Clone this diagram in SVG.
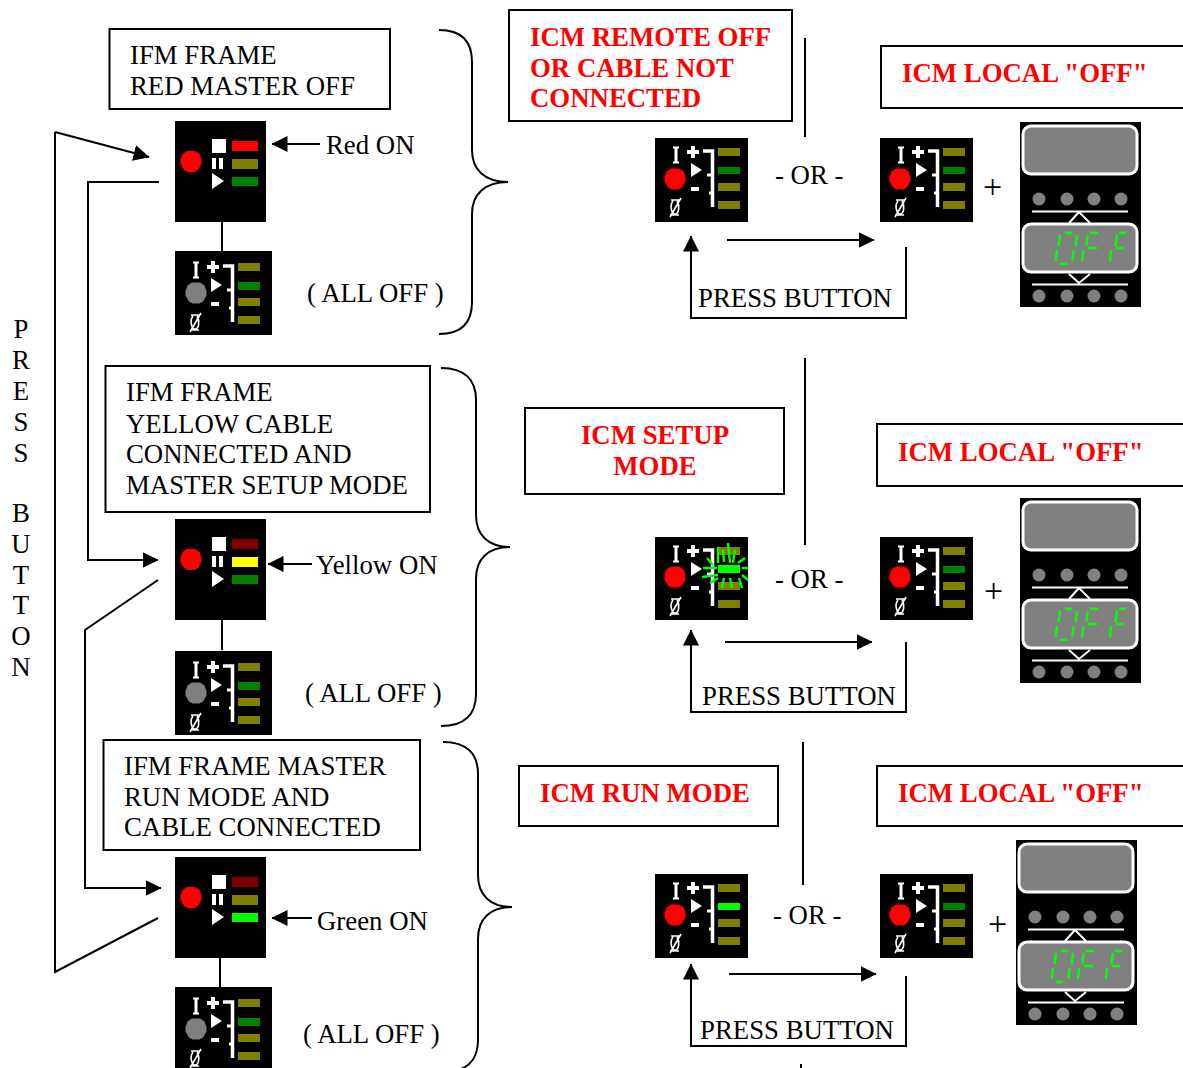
<svg xmlns="http://www.w3.org/2000/svg" width="1183" height="1068" viewBox="0 0 1183 1068">
<style>
text{font-family:"Liberation Serif","Times New Roman",serif;font-size:26.8px;fill:#000}
.r{fill:#f00;font-weight:bold}
.m{text-anchor:middle}
.p{font-size:34px}
.box{fill:#fff;stroke:#000;stroke-width:2}
.c{fill:none;stroke:#000;stroke-width:2}
.w{fill:#fff}
.wl{fill:none;stroke:#fff}
.seg{fill:none;stroke:#0f0;stroke-width:2.400}
.g{fill:#808080}
</style>
<defs>
<marker id="a" markerUnits="userSpaceOnUse" markerWidth="16" markerHeight="16" refX="15.500" refY="8" orient="auto"><path d="M0,0L16,8L0,16Z" fill="#000"/></marker>
<polygon id="oct" points="-4,-10.500 4,-10.500 8.500,-7.500 10.500,-2 10.500,2.500 7,8.500 3.500,10.500 -3.500,10.500 -7,8.500 -10.500,2.500 -10.500,-2 -8.500,-7.500"/>
<g id="panelA">
<rect width="91" height="101" fill="#000"/>
<use href="#oct" x="16" y="40.500" fill="#f00"/>
<rect class="w" x="37" y="18" width="14" height="14"/>
<rect class="w" x="37" y="37" width="4" height="11"/>
<rect class="w" x="44" y="37" width="4" height="11"/>
<path class="w" d="M37,52L49,60L37,68Z"/>
</g>
<g id="panelB">
<path class="wl" stroke-width="3" d="M21,10V24"/><path class="wl" stroke-width="2" d="M18,9.500H24M18,24.500H24"/>
<path class="wl" stroke-width="4" d="M32,14H44M38,8V20"/>
<path class="w" d="M36,25L47,32L36,39Z"/>
<rect class="w" x="36" y="49" width="8" height="4"/>
<path class="wl" stroke-width="3.500" d="M48,13H57.500V69"/>
<path class="wl" stroke-width="3" d="M52,37H57M54,55H57"/>
<path class="wl" stroke-width="1.600" d="M16,62H25M15,77H24M18,63C14,68 17,76 20,76C24,76 25,68 22,63M15,79L26,60"/>
<g fill="#808000"><rect x="63" y="10" width="22" height="8"/><rect x="63" y="45" width="22" height="8"/><rect x="63" y="63" width="22" height="8"/></g>
</g>
<g id="disp">
<rect width="121" height="185" fill="#000"/>
<rect x="3" y="4" width="114" height="48" rx="8" fill="#808080" stroke="#fff" stroke-width="3"/>
<rect x="3" y="102" width="114" height="48" rx="8" fill="#808080" stroke="#fff" stroke-width="3"/>
<g class="g"><circle cx="19" cy="77" r="6.500"/><circle cx="47" cy="77" r="6.500"/><circle cx="74" cy="77" r="6.500"/><circle cx="101" cy="77" r="6.500"/><circle cx="19" cy="174" r="6.500"/><circle cx="47" cy="174" r="6.500"/><circle cx="74" cy="174" r="6.500"/><circle cx="101" cy="174" r="6.500"/></g>
<path class="wl" stroke-width="2" d="M12,89.500H108M12,162.500H108M49,101L59,90L70,101M49,152L59,161L70,152"/>
<path class="seg" d="M40,113L38.700,124M37,128L35.700,139M40,142H47M45,111H52M57,113L55.700,124M53.700,128L52.300,139M67.700,113L66.300,124M63.300,128L62,139M70,111H78M68,126H77M97,113L95.500,124M91,128L90,139M99,111H106M96,126H104"/>
</g>
</defs>

<g id="connectors">
<path class="c" d="M55,132V972L158,918"/>
<path class="c" d="M55,132L149,157" marker-end="url(#a)"/>
<path class="c" d="M159,182H88V560H158" marker-end="url(#a)"/>
<path class="c" d="M158,580L85,630V888H161" marker-end="url(#a)"/>
<path class="c" d="M320,144H272" marker-end="url(#a)"/>
<path class="c" d="M312,564H268" marker-end="url(#a)"/>
<path class="c" d="M312,918H272" marker-end="url(#a)"/>
<path class="c" d="M222,222V251M222,620V650M220,958V987"/>
<path class="c" d="M805,38V137M805,358V545M803,742V885M801,1064V1068"/>
<path class="c" d="M727,240H874" marker-end="url(#a)"/>
<path class="c" d="M906,247V318H691V236" marker-end="url(#a)"/>
<path class="c" d="M725,642H872" marker-end="url(#a)"/>
<path class="c" d="M906,642V712H691V630" marker-end="url(#a)"/>
<path class="c" d="M729,974H876" marker-end="url(#a)"/>
<path class="c" d="M906,976V1046H691V964" marker-end="url(#a)"/>
<path class="c" d="M439,30C462,30 472,42 472,62V150C472,170 485,182 508,182C485,182 472,194 472,214V302C472,322 462,334 439,334"/>
<path class="c" d="M441,368C465,368 476,380 476,400V515C476,535 488,547 510,547C488,547 476,559 476,579V694C476,714 465,726 441,726"/>
<path class="c" d="M443,742C467,742 478,754 478,774V875C478,895 490,907 512,907C490,907 478,919 478,939V1040C478,1060 467,1072 443,1072"/>
</g>

<g id="press-button">
<text class="m" x="21" y="338">P</text><text class="m" x="21" y="369">R</text><text class="m" x="21" y="400">E</text><text class="m" x="21" y="431">S</text><text class="m" x="21" y="462">S</text><text class="m" x="21" y="522">B</text><text class="m" x="21" y="553">U</text><text class="m" x="21" y="584">T</text><text class="m" x="21" y="614">T</text><text class="m" x="21" y="645">O</text><text class="m" x="21" y="676">N</text>
</g>

<g id="box-red"><rect class="box" x="109.500" y="29" width="280.500" height="80"/><text x="130" y="64">IFM FRAME</text><text x="130" y="95">RED MASTER OFF</text></g>
<g id="box-yellow"><rect class="box" x="105.500" y="366" width="324.500" height="146"/><text x="126" y="401">IFM FRAME</text><text x="126" y="433">YELLOW CABLE</text><text x="126" y="463">CONNECTED AND</text><text x="126" y="494">MASTER SETUP MODE</text></g>
<g id="box-green"><rect class="box" x="103.500" y="740" width="316.500" height="110"/><text x="124" y="775">IFM FRAME MASTER</text><text x="124" y="806">RUN MODE AND</text><text x="124" y="836">CABLE CONNECTED</text></g>
<g id="box-remote"><rect class="box" x="509" y="10" width="283" height="111"/><text class="r" x="530" y="46">ICM REMOTE OFF</text><text class="r" x="530" y="77">OR CABLE NOT</text><text class="r" x="530" y="107">CONNECTED</text></g>
<g id="box-setup"><rect class="box" x="525" y="408" width="259" height="86"/><text class="r m" x="655" y="444">ICM SETUP</text><text class="r m" x="655" y="475">MODE</text></g>
<g id="box-run"><rect class="box" x="519" y="766" width="259" height="60"/><text class="r" x="540" y="802">ICM RUN MODE</text></g>
<g id="box-local1"><rect class="box" x="881" y="46" width="310" height="62"/><text class="r" x="902" y="82">ICM LOCAL "OFF"</text></g>
<g id="box-local2"><rect class="box" x="877" y="424" width="310" height="62"/><text class="r" x="898" y="461">ICM LOCAL "OFF"</text></g>
<g id="box-local3"><rect class="box" x="877" y="766" width="310" height="60"/><text class="r" x="898" y="802">ICM LOCAL "OFF"</text></g>

<g id="led-red"><use href="#panelA" x="175" y="121"/><rect x="232" y="141" width="26" height="10" fill="#f00"/><rect x="232" y="159" width="26" height="10" fill="#808000"/><rect x="232" y="177" width="26" height="9" fill="#008000"/><text x="326" y="154">Red ON</text></g>
<g id="led-yellow"><use href="#panelA" x="175" y="519"/><rect x="232" y="539" width="26" height="10" fill="#800000"/><rect x="232" y="557" width="26" height="10" fill="#ff0"/><rect x="232" y="575" width="26" height="9" fill="#008000"/><text x="316" y="574">Yellow ON</text></g>
<g id="led-green"><use href="#panelA" x="175" y="857"/><rect x="232" y="877" width="26" height="10" fill="#800000"/><rect x="232" y="895" width="26" height="10" fill="#808000"/><rect x="232" y="913" width="26" height="9" fill="#0f0"/><text x="317" y="930">Green ON</text></g>

<g id="all-off-1"><rect x="175" y="251" width="97" height="84" fill="#000"/><use href="#panelB" x="175" y="253"/><rect x="238" y="282" width="22" height="8" fill="#008000"/><use href="#oct" x="196" y="293" fill="#808080"/><text x="307" y="302">( ALL OFF )</text></g>
<g id="all-off-2"><rect x="175" y="651" width="97" height="84" fill="#000"/><use href="#panelB" x="175" y="653"/><rect x="238" y="682" width="22" height="8" fill="#008000"/><use href="#oct" x="196" y="693" fill="#808080"/><text x="305" y="702">( ALL OFF )</text></g>
<g id="all-off-3"><rect x="175" y="987" width="97" height="84" fill="#000"/><use href="#panelB" x="175" y="989"/><rect x="238" y="1018" width="22" height="8" fill="#008000"/><use href="#oct" x="196" y="1029" fill="#808080"/><text x="303" y="1043">( ALL OFF )</text></g>

<g id="icm-1a"><rect x="655" y="138" width="93" height="84" fill="#000"/><use href="#panelB" x="655" y="138"/><rect x="718" y="167" width="22" height="7" fill="#008000"/><use href="#oct" x="675" y="179" fill="#f00"/><text x="775" y="184">- OR -</text></g>
<g id="icm-1b"><rect x="880" y="138" width="93" height="84" fill="#000"/><use href="#panelB" x="880" y="138"/><rect x="943" y="167" width="22" height="7" fill="#008000"/><use href="#oct" x="900" y="179" fill="#f00"/><text class="p" x="983" y="198">+</text></g>
<g id="disp-1"><use href="#disp" x="1020" y="122"/></g>
<text x="698" y="307">PRESS BUTTON</text>

<g id="icm-2a"><rect x="655" y="537" width="93" height="83" fill="#000"/><use href="#panelB" x="655" y="537"/><rect x="718" y="565" width="22" height="8" fill="#0f0"/><use href="#oct" x="675" y="577" fill="#f00"/>
<path class="seg" stroke-width="1.800" d="M718,547L718,563M728,543L730,563M723,550L724,562M735,550L733,563M745,558L738,563M707,558L713,565M703,568L717,568M702,577L718,575M710,583L718,578M722,588L724,578M732,588L730,578M742,588L739,578M748,580L742,575M748,568L742,568"/>
<text x="775" y="588">- OR -</text></g>
<g id="icm-2b"><rect x="880" y="537" width="93" height="83" fill="#000"/><use href="#panelB" x="880" y="537"/><rect x="943" y="566" width="22" height="7" fill="#008000"/><use href="#oct" x="900" y="577" fill="#f00"/><text class="p" x="984" y="602">+</text></g>
<g id="disp-2"><use href="#disp" x="1020" y="498"/></g>
<text x="702" y="705">PRESS BUTTON</text>

<g id="icm-3a"><rect x="655" y="874" width="93" height="84" fill="#000"/><use href="#panelB" x="655" y="874"/><rect x="718" y="903" width="22" height="7" fill="#0f0"/><use href="#oct" x="675" y="915" fill="#f00"/><text x="773" y="924">- OR -</text></g>
<g id="icm-3b"><rect x="880" y="874" width="93" height="84" fill="#000"/><use href="#panelB" x="880" y="874"/><rect x="943" y="903" width="22" height="7" fill="#008000"/><use href="#oct" x="900" y="915" fill="#f00"/><text class="p" x="988" y="935">+</text></g>
<g id="disp-3"><use href="#disp" x="1016" y="840"/></g>
<text x="700" y="1039">PRESS BUTTON</text>
</svg>
